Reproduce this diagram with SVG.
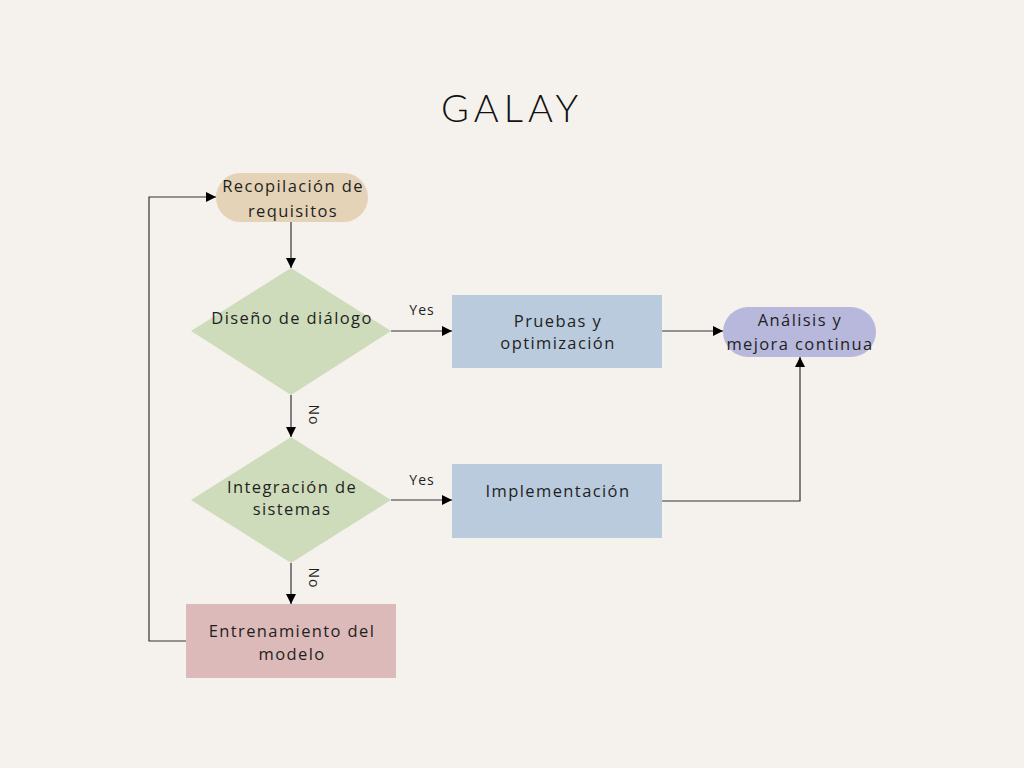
<svg xmlns="http://www.w3.org/2000/svg" width="1024" height="768" viewBox="0 0 1024 768">
<defs>
<marker id="ah" viewBox="0 0 10 10" refX="10" refY="5" markerWidth="10" markerHeight="10" markerUnits="userSpaceOnUse" orient="auto">
<path d="M0,0 L10,5 L0,10 Z" fill="#000"/>
</marker>
<style>
.t{font-family:"Open Sans","Noto Sans",sans-serif;font-size:16.5px;letter-spacing:1.4px;fill:#1f1f1f;text-anchor:middle}
.l{font-family:"Open Sans","Noto Sans",sans-serif;font-size:14px;letter-spacing:1px;fill:#1f1f1f;text-anchor:middle}
.c{fill:none;stroke:#333;stroke-width:1.2;marker-end:url(#ah)}
</style>
</defs>
<rect width="1024" height="768" fill="#f5f2ee"/>
<text x="512" y="122" font-family="Lato,'Open Sans',sans-serif" font-weight="300" font-size="38" letter-spacing="5" text-anchor="middle" fill="#111">GALAY</text>

<g id="n1"><rect x="216" y="173" width="152" height="49" rx="24.5" fill="#e5d3b8"/>
<text class="t" x="293" y="192">Recopilación de</text><text class="t" x="293" y="217">requisitos</text></g>
<g id="n2"><polygon points="291,268 391,331 291,395 191,331" fill="#cfdcbb"/>
<text class="t" x="292" y="324">Diseño de diálogo</text></g>
<g id="n3"><rect x="452" y="295" width="210" height="73" fill="#bacbdd"/>
<text class="t" x="558" y="327">Pruebas y</text><text class="t" x="558" y="349">optimización</text></g>
<g id="n4"><rect x="723" y="307" width="153" height="50" rx="25" fill="#b8b8dc"/>
<text class="t" x="800" y="326">Análisis y</text><text class="t" x="800" y="350">mejora continua</text></g>
<g id="n5"><polygon points="291,437 391,500 291,563 191,500" fill="#cfdcbb"/>
<text class="t" x="292" y="493">Integración de</text><text class="t" x="292" y="515">sistemas</text></g>
<g id="n6"><rect x="452" y="464" width="210" height="74" fill="#bacbdd"/>
<text class="t" x="558" y="497">Implementación</text></g>
<g id="n7"><rect x="186" y="604" width="210" height="74" fill="#dcbab9"/>
<text class="t" x="292" y="637">Entrenamiento del</text><text class="t" x="292" y="660">modelo</text></g>

<g id="connectors">
<path class="c" d="M291,222 V268"/>
<path class="c" d="M391,331 H452"/>
<text class="l" x="422" y="315">Yes</text>
<path class="c" d="M662,331 H723"/>
<path class="c" d="M291,395 V437"/>
<text class="l" transform="translate(309,415) rotate(90)">No</text>
<path class="c" d="M391,500 H452"/>
<text class="l" x="422" y="485">Yes</text>
<path class="c" d="M662,501 H800 V357"/>
<path class="c" d="M291,563 V604"/>
<text class="l" transform="translate(309,578) rotate(90)">No</text>
<path class="c" d="M186,641 H149 V197 H216"/>
</g>
</svg>
